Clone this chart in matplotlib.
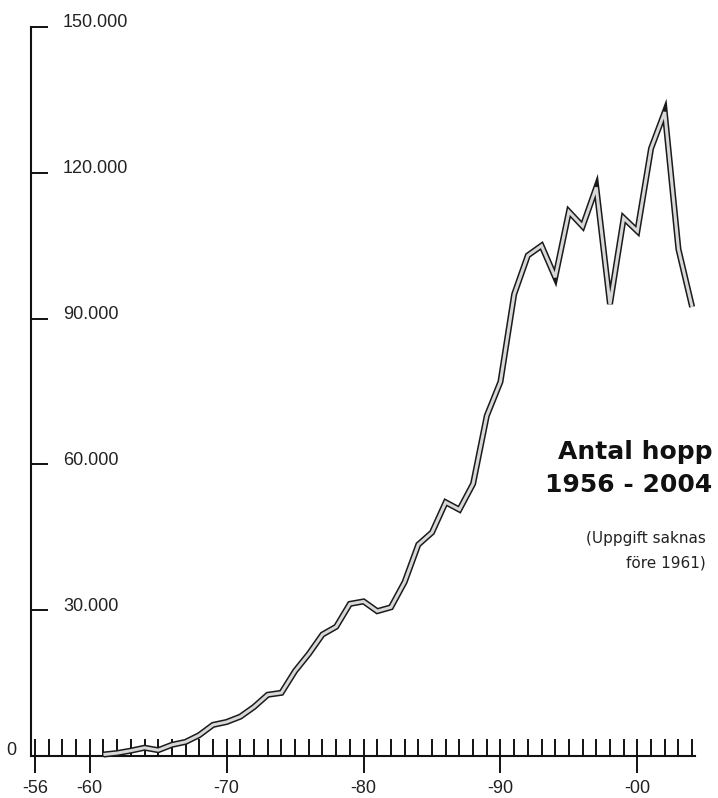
import matplotlib
matplotlib.use("Agg")
import matplotlib.pyplot as plt
from matplotlib.ticker import FixedLocator, NullFormatter

# Antal hopp per år (uppgift saknas före 1961)
years = list(range(1961, 2005))
jumps = [300, 600, 1100, 1700, 1200, 2300, 2900, 4300, 6400, 7000,
         8100, 10100, 12600, 13000, 17500, 21000, 25000, 26600, 31300, 31800,
         29800, 30600, 35800, 43500, 46000, 52200, 50700, 56000, 70000, 77000,
         95000, 103000, 105000, 98500, 112000, 109000, 117000, 93000, 110700, 108000,
         125000, 132500, 104300, 92400]

y_ticks = [0, 30000, 60000, 90000, 120000, 150000]
y_labels = ["0", "30.000", "60.000", "90.000", "120.000", "150.000"]
x_major = [1956, 1960, 1970, 1980, 1990, 2000]
x_labels = ["-56", "-60", "-70", "-80", "-90", "-00"]
x_minor = list(range(1956, 2005))

W, H = 718, 798
fig = plt.figure(figsize=(W / 100, H / 100), dpi=100)
ax = fig.add_axes([0, 0, 1, 1])

# pixel mapping: 1956 -> x=35, 13.69 px/year; 0 -> y=756, 4.86 px per 1000
px_year = 13.69
px_val = 729 / 150000
ax.set_xlim(1956 - 35 / px_year, 1956 + (W - 35) / px_year)
ax.set_ylim(-(H - 756) / px_val, 756 / px_val)
ax.patch.set_alpha(0)

x_axis = 1956 - 4 / px_year

for s in ["top", "right"]:
    ax.spines[s].set_visible(False)
ax.spines["left"].set_position(("data", x_axis))
ax.spines["left"].set_bounds(0, 150000)
ax.spines["bottom"].set_position(("data", 0))
ax.spines["bottom"].set_bounds(x_axis, 2004.2)
for s in ["left", "bottom"]:
    ax.spines[s].set_linewidth(1.5)
    ax.spines[s].set_color("#111111")

# y ticks pointing into the plot, labels drawn separately
ax.yaxis.set_major_locator(FixedLocator(y_ticks))
ax.yaxis.set_major_formatter(NullFormatter())
ax.tick_params(axis="y", direction="in", length=12, width=1.4, color="#111111")

# x: one small tick per year, longer ticks at labelled years
ax.xaxis.set_major_locator(FixedLocator(x_major))
ax.xaxis.set_minor_locator(FixedLocator(x_minor))
ax.set_xticklabels(x_labels, fontsize=13, family="Liberation Sans", color="#222222")
ax.tick_params(axis="x", which="major", direction="inout", length=24, width=1.4,
               color="#111111", pad=5)
ax.tick_params(axis="x", which="minor", direction="in", length=12, width=1.4,
               color="#111111")

for v, lab in zip(y_ticks, y_labels):
    if v == 0:
        ax.annotate(lab, xy=(x_axis, v), xytext=(-14, 4), textcoords="offset points",
                    ha="center", va="center", fontsize=13, family="Liberation Sans",
                    color="#222222")
    else:
        ax.annotate(lab, xy=(x_axis, v), xytext=(23, 3), textcoords="offset points",
                    ha="left", va="center", fontsize=13, family="Liberation Sans",
                    color="#222222")

# double line: dark outline, light core
ax.plot(years, jumps, color="#1a1a1a", linewidth=4.4, solid_joinstyle="miter",
        solid_capstyle="butt", zorder=3)
ax.plot(years, jumps, color="#d8d8d8", linewidth=2.2, solid_joinstyle="miter",
        solid_capstyle="butt", zorder=4)

fig.text(712 / W, 1 - 452 / H, "Antal hopp", ha="right", va="center",
         fontsize=18, fontweight="bold", family="DejaVu Sans", color="#111111")
fig.text(712 / W, 1 - 485 / H, "1956 - 2004", ha="right", va="center",
         fontsize=18, fontweight="bold", family="DejaVu Sans", color="#111111")
fig.text(706 / W, 1 - 538 / H, "(Uppgift saknas", ha="right", va="center",
         fontsize=11, family="DejaVu Sans", color="#222222")
fig.text(706 / W, 1 - 563 / H, "före 1961)", ha="right", va="center",
         fontsize=11, family="DejaVu Sans", color="#222222")

fig.savefig("out.png", dpi=100, facecolor="white")
